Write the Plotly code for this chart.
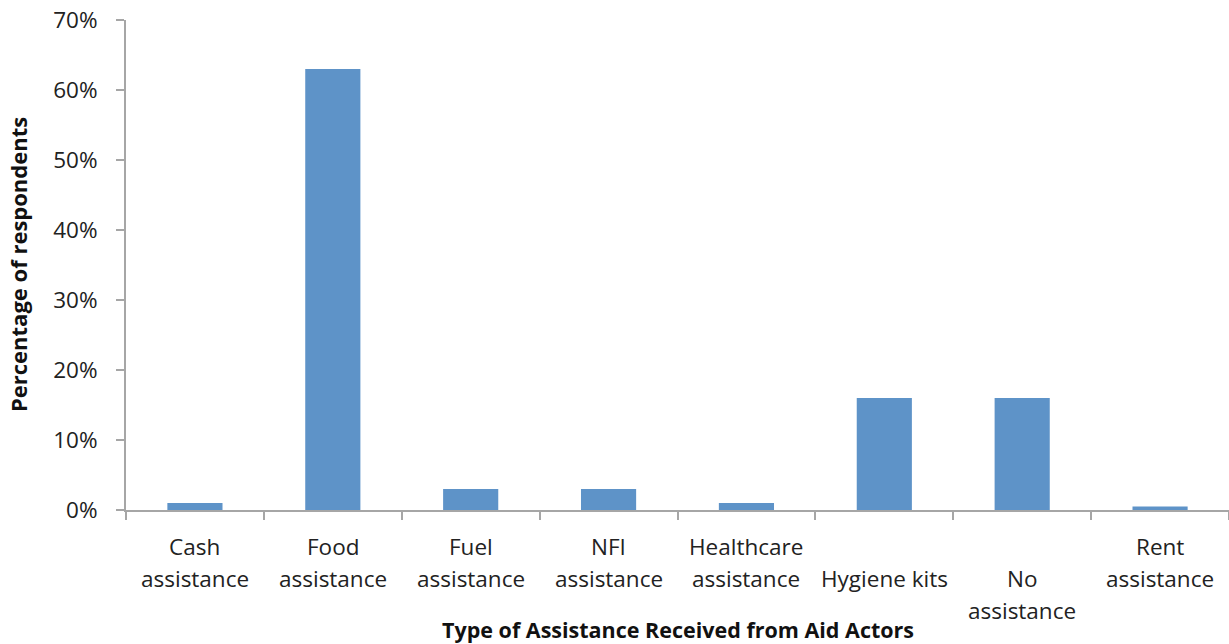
import plotly.graph_objects as go

categories = [
    "Cash\nassistance",
    "Food\nassistance",
    "Fuel\nassistance",
    "NFI\nassistance",
    "Healthcare\nassistance",
    "\nHygiene kits",
    "\nNo\nassistance",
    "Rent\nassistance",
]
values = [0.01, 0.63, 0.03, 0.03, 0.01, 0.16, 0.16, 0.005]
y_ticks = [0, 0.1, 0.2, 0.3, 0.4, 0.5, 0.6, 0.7]
y_tick_labels = ["0%", "10%", "20%", "30%", "40%", "50%", "60%", "70%"]

FONT = "Open Sans"
TEXT = "#222222"
AXIS = "#A6A6A6"
BAR = "#5E93C8"

x_idx = list(range(len(categories)))

fig = go.Figure(
    go.Bar(
        x=x_idx,
        y=values,
        width=0.4,
        marker=dict(color=BAR, line=dict(width=0)),
        hoverinfo="skip",
    )
)

# Category labels, one annotation per line so line spacing is controlled
LINE_H = 32
for i, label in enumerate(categories):
    for k, line in enumerate(label.split("\n")):
        if not line:
            continue
        fig.add_annotation(
            x=i, xref="x", y=0, yref="paper",
            text=line, showarrow=False,
            yanchor="middle", yshift=-(36 + k * LINE_H),
            font=dict(family=FONT, size=22.5, color=TEXT),
        )

fig.update_layout(
    width=1229, height=644,
    margin=dict(l=126, r=0, t=20, b=134),
    paper_bgcolor="white", plot_bgcolor="white",
    showlegend=False,
    font=dict(family=FONT, size=22.5, color=TEXT),
    xaxis=dict(
        range=[-0.5, 7.5],
        tickvals=[i - 0.5 for i in range(len(categories) + 1)],
        ticktext=[""] * (len(categories) + 1),
        ticks="outside", ticklen=8, tickcolor=AXIS, tickwidth=2,
        showline=True, linecolor=AXIS, linewidth=2,
        showgrid=False, zeroline=False, fixedrange=True,
    ),
    yaxis=dict(
        range=[0, 0.7],
        tickvals=y_ticks, ticktext=y_tick_labels,
        ticks="outside", ticklen=8, tickcolor=AXIS, tickwidth=2,
        showline=True, linecolor=AXIS, linewidth=2,
        showgrid=False, zeroline=False, fixedrange=True,
        ticklabelstandoff=14,
        tickfont=dict(family=FONT, size=22.5, color=TEXT),
    ),
)

fig.add_annotation(
    x=0.5, xref="paper", y=0, yref="paper",
    text="<b>Type of Assistance Received from Aid Actors</b>",
    showarrow=False, yanchor="middle", yshift=-119,
    font=dict(family=FONT, size=21.5, color="#111111"),
)
fig.add_annotation(
    x=0, xref="paper", xshift=-108, y=0.5, yref="paper",
    text="<b>Percentage of respondents</b>",
    showarrow=False, textangle=-90, xanchor="center",
    font=dict(family=FONT, size=22, color="#111111"),
)

fig.write_html("out.html", config={"displayModeBar": False})
